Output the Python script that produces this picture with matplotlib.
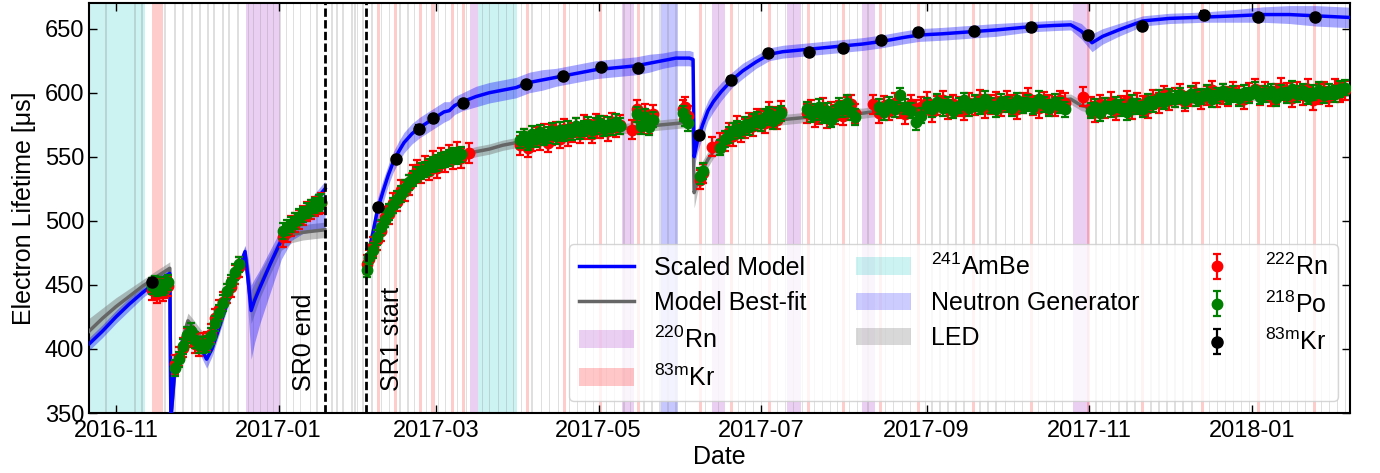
import numpy as np
import matplotlib
matplotlib.use("Agg")
import matplotlib.pyplot as plt
import matplotlib.dates as mdates
from matplotlib.patches import Patch
from matplotlib.lines import Line2D

plt.rcParams['font.family'] = ['Liberation Sans', 'DejaVu Sans']
plt.rcParams['mathtext.fontset'] = 'custom'
plt.rcParams['mathtext.rm'] = 'Liberation Sans'
plt.rcParams['mathtext.it'] = 'Liberation Sans:italic'
plt.rcParams['mathtext.bf'] = 'Liberation Sans:bold'

# all times are days since 2016-11-01
# ---- scaled model (blue) and best-fit model (gray), SR0
model_days_sr0 = [-15, -10, -5, 0, 5, 10, 15, 20.2, 20.6, 22,
                  25, 27, 29, 31.5, 34, 36, 38, 42, 46, 48.4,
                  49.5, 50.7, 52, 54, 58, 62, 66, 70, 74, 78.4]
blue_sr0 = [397, 404, 414, 425, 435, 444, 452, 459, 345, 383,
            405, 416, 412, 402, 392, 400, 412, 438, 462, 476,
            455, 430, 438, 448, 467, 485, 496, 505, 514, 525]
blue_lo_sr0 = [391, 399, 409, 420, 430, 440, 448, 455, 340, 377,
               400, 411, 407, 396, 385, 394, 407, 433, 457, 470,
               430, 392, 405, 420, 445, 470, 485, 490, 492, 493]
blue_hi_sr0 = [402, 409, 419, 430, 440, 448, 456, 463, 350, 389,
               410, 421, 417, 407, 398, 406, 417, 443, 467, 481,
               470, 450, 455, 462, 478, 494, 503, 512, 520, 531]
gray_sr0 = [403, 414, 424, 433, 441, 449, 456, 463, 345, 380,
            408, 422, 417, 410, 405, 410, 418, 440, 462, 474,
            455, 433, 440, 450, 467, 483, 489, 491, 492, 493]
gray_lo_sr0 = [393, 404, 416, 426, 435, 444, 451, 458, 340, 374,
               402, 416, 411, 404, 399, 404, 412, 434, 456, 468,
               445, 420, 428, 440, 459, 477, 483, 485, 486, 487]
gray_hi_sr0 = [413, 424, 432, 440, 447, 454, 461, 468, 350, 386,
               414, 428, 423, 416, 411, 416, 424, 446, 468, 480,
               465, 446, 452, 460, 475, 489, 495, 497, 498, 499]

# ---- SR1
model_days_sr1 = [93.8, 95, 96.5, 98, 100, 102, 104, 106,
                  108, 111, 114, 117, 120, 123, 125, 127, 130,
                  135, 140, 145, 150, 155, 160, 165, 170, 175, 180, 185, 190, 195, 200, 205, 210, 215,
                  216.4, 216.8, 218, 220, 222, 224, 227, 231, 235, 240, 245, 250, 255, 260, 265, 270, 275, 280,
                  287, 295, 301, 310, 320, 330, 343, 352, 358, 362, 366, 370, 376, 385, 395, 408, 420, 430, 440, 450, 460, 470]
blue_sr1 = [462, 478, 492, 508, 522, 535, 546, 554,
            561, 568, 573, 577, 581, 585, 586, 590, 593,
            597, 600, 602, 604, 608, 610, 612, 614, 616, 618, 619, 620, 621, 623, 625, 627, 627,
            626, 550, 562, 575, 586, 593, 601, 610, 617, 624, 630, 632, 633, 634, 635, 636, 637, 638,
            640, 643, 645, 646, 647.5, 649, 651.5, 652.5, 653, 648, 639, 644, 649, 656, 658, 659, 660, 661, 661, 660, 659, 658]
blue_hw_sr1 = [9, 9, 9, 9, 9, 8, 8, 8,
               8, 8, 8, 8, 8, 8, 7, 7, 7,
               8, 8, 8, 8, 8, 8, 7, 7, 7, 7, 7, 7, 7, 7, 6, 6, 6,
               6, 8, 9, 9, 8, 8, 7, 6, 6, 5, 5, 5, 5, 5, 5, 5, 5, 5,
               5, 5, 5, 5, 5, 5, 4, 4, 4, 6, 7, 6, 5, 4, 4, 4, 5, 6, 7, 8, 8, 8]
gray_sr1 = [462, 472, 481, 490, 500, 509, 516, 522,
            527, 532, 537, 541, 544, 547, 548, 550, 551,
            554, 556, 559, 561, 563, 565, 566, 568, 569, 570, 571, 572, 573, 574, 575, 576, 577,
            577, 522, 530, 540, 548, 554, 560, 566, 570, 574, 577, 579, 580, 581, 582, 583, 584, 584,
            586, 587, 588, 589, 590, 591, 593, 594, 595, 590, 588, 589, 590, 592, 594, 596, 597, 598, 599, 600, 601, 601]
gray_hw_sr1 = [6, 6, 6, 6, 5, 5, 5, 5,
               5, 5, 4, 4, 4, 4, 4, 4, 4,
               4, 4, 4, 4, 4, 4, 4, 4, 4, 4, 4, 4, 4, 4, 4, 4, 4,
               4, 12, 8, 7, 6, 5, 5, 4, 4, 4, 4, 4, 4, 4, 4, 4, 4, 4,
               4, 4, 4, 4, 4, 4, 4, 4, 4, 4, 4, 4, 4, 4, 4, 4, 4, 4, 4, 4, 4, 4]

# ---- 222Rn / 218Po alpha lifetimes (nan = no point)
nan = np.nan
alpha_days = [13.5, 14.5, 15.5, 16.5, 17.5, 18.5, 19.5,
              22.0, 23.5, 25.0, 26.5, 28.0, 29.5, 31.0, 32.5, 34.0, 35.5, 37.0, 38.5, 40.0, 41.5, 43.0, 44.5, 46.0,
              62.5, 64.0, 65.5, 67.0, 68.5, 70.0, 71.5, 73.0, 74.5, 76.0, 77.0,
              94.0, 95.0, 96.5, 98.0, 99.5, 101.0, 102.5, 104.0, 105.5, 107.0, 108.5, 110.0, 111.5,
              113.0, 114.5, 116.0, 117.5, 119.0, 120.5, 122.0, 123.5, 125.0, 126.5, 128.0, 129.5, 132.5,
              151.5, 153.0, 154.5, 156.0, 157.5, 159.0, 160.5, 162.0, 163.5, 165.0, 166.5, 168.0, 169.5,
              171.0, 172.5, 174.0, 175.5, 177.0, 178.5, 180.0, 181.5, 183.0, 184.5, 186.0, 187.5, 189.0,
              193.6, 195.5, 197.0, 198.5, 200.0, 201.5, 212.5, 213.5, 214.5,
              219.0, 220.0, 223.5, 226.5, 228.5, 230.0, 231.5, 233.0, 234.5, 236.0, 237.5, 239.0, 240.5,
              242.0, 243.5, 245.0, 246.5, 248.0, 249.5,
              259.0, 260.5, 262.0, 263.5, 265.0, 266.5, 268.0, 269.5, 271.0, 272.5, 274.0, 275.5, 277.0,
              283.7, 286, 288, 290, 292, 294, 296, 298, 300, 302, 304, 306, 308, 310, 312, 314, 316, 318,
              320, 322, 324, 326, 328, 330, 332, 334, 336, 338, 340, 342, 344, 346, 348, 350, 352, 354, 356,
              362.5, 365.5, 367, 369, 371, 373, 375, 377, 379, 381, 383, 385, 387, 389, 391, 393, 395, 397,
              399, 401, 403, 405, 407, 409, 411, 413, 415, 417, 419, 421, 423, 425, 427, 429, 431, 433,
              435, 437, 439, 441, 443, 445, 447, 449, 451, 453, 455, 457, 459, 461]
rn222_tau = [446, 447, 443, 448, 445, 447, 449,
             388, 394, 401, 409, 410, 404, 402, 405, 406, 412, 424, 431, 437, 443, 448, 458, 464,
             487, 491, 496, 499, 501, 504, 507, 509, 511, 513, 514,
             466, 470, 480, 485, 492, 503, 505, 514, 515, 524, 523, 528, 536,
             540, 537, 543, 539, 547, 541, 549, 546, 552, 548, 554, 549, 553,
             559, 564, 557, 562, 566, 563, 568, 561, 567, 570, 564, 572, 566,
             569, 573, 568, 575, 571, 568, 576, 572, 574, 570, 577, 573, 575,
             571, 587, 577, 584, 575, 583, 587, 589, 582,
             532, 537, 558, 561, 562, 569, 566, 574, 569, 572, 577, 574, 580,
             578, 576, 585, 581, 579, 586,
             584, 587, 581, 583, 588, 580, 585, 583, 586, 582, 589, 591, 584,
             591, 584, 590, 586, 592, 588, 583, 591, 587, 589, 593, 585, 590, 594, 587, 591, 589, 586,
             592, 590, 595, 588, 591, 593, 589, 594, 591, 587, 592, 596, 590, 588, 593, 591, 589, 594, 592,
             597, 589, 585, 591, 588, 593, 586, 590, 594, 587, 592, 590, 588, 595, 592, 598, 594, 596,
             599, 593, 597, 600, 595, 598, 602, 596, 599, 597, 601, 598, 595, 600, 603, 598, 601, 597,
             599, 604, 600, 596, 601, 598, 603, 594, 599, 601, 597, 603, 600, 602]
po218_tau = [449, 451, 447, 450, 448, 450, 452,
             385, 392, 402, 411, 414, 407, 403, 403, 404, 410, 420, 428, 436, 445, 452, 460, 466,
             492, 495, 497, 500, 503, 505, 508, 510, 512, 514, 515,
             462, 472, 477, 487, 495, 501, 507, 512, 517, 521, 526, 530, 533,
             536, 539, 540, 542, 544, 545, 547, 548, 549, 551, 550, 552, nan,
             563, 566, 561, 568, 564, 569, 565, 567, 570, 566, 571, 568, 572,
             569, 574, 570, 572, 575, 571, 574, 576, 572, 575, 573, 577, 574,
             nan, 583, 574, 581, 573, 579, 584, 580, 576,
             535, 539, nan, 557, 564, 567, 570, 572, 571, 575, 573, 577, 579,
             576, 581, 583, 578, 582, 584,
             587, 583, 585, 589, 582, 586, 579, 584, 590, 587, 592, 585, 581,
             nan, 589, 585, 591, 587, 598, 589, 586, 577, 582, 590, 587, 593, 588, 591, 586, 590, 594,
             588, 592, 589, 595, 590, 587, 593, 591, 588, 594, 590, 592, 589, 595, 591, 588, 593, 590, 587,
             nan, 586, 589, 584, 590, 587, 591, 588, 585, 592, 589, 587, 593, 591, 596, 593, 597, 595,
             598, 594, 599, 596, 597, 600, 595, 598, 601, 597, 599, 596, 600, 598, 602, 597, 599, 601,
             596, 600, 598, 603, 599, 601, 597, 600, 602, 598, 601, 599, 603, 604]
rn222_err = 7.5
po218_err = 6.0

# ---- 83mKr lifetimes
kr_days = [13.5, 98.4, 105.0, 113.7, 118.9, 130.2, 153.8, 167.7, 182.0, 195.9, 218.7, 230.7,
           244.6, 260.0, 272.8, 287.0, 300.9, 321.6, 343.0, 364.4, 384.9, 407.9, 428.1, 449.5]
kr_tau = [452, 511, 548, 572, 580, 592, 607, 613, 620, 619, 567, 610,
          631, 632, 635, 641, 647, 648, 651, 645, 652, 661, 659, 659]
kr_err = 2.5

# ---- calibration periods
ambe_start = [-20.0, 135.8]
ambe_end = [11.0, 150.5]
ng_start = [204.5]
ng_end = [210.9]
rn220_start = [48.8, 132.8, 189.9, 223.6, 251.8, 279.9, 358.7]
rn220_end = [61.5, 135.8, 194.4, 228.5, 257.0, 284.8, 364.7]
kr_cal_start = [13.5, 97.7, 104.1, 113.5, 118.3, 125.5, 129.6, 153.6, 167.5, 181.0, 195.3, 218.5, 230.2,
                244.4, 259.1, 272.2, 286.1, 300.3, 321.0, 342.7, 364.0, 384.4, 406.9, 427.9, 448.9]
kr_cal_end = [17.6, 98.9, 105.3, 114.7, 119.5, 126.7, 130.8, 154.8, 168.7, 182.2, 196.5, 219.7, 231.4,
              245.6, 260.3, 273.4, 287.3, 301.5, 322.2, 343.9, 365.2, 385.6, 408.1, 429.1, 450.1]
led_days = [-3.8, 7.1, 9.8, 18.4, 22.1, 25.1, 28.5, 31.5, 34.5, 36.8, 40.2, 42.4, 45.8, 49.7, 51.6,
            54.2, 56.8, 59.1, 61.5, 64.0, 66.6, 69.2, 72.9, 75.5, 81.1, 82.9, 85.1, 88.6, 89.6, 90.6,
            92.7, 96.0, 99.5, 102.5, 106.5, 109.5, 112.0, 116.5, 121.0, 123.5, 128.0, 131.5, 137.5,
            140.0, 143.5, 146.5, 149.0, 152.0, 156.0, 159.5, 162.5, 166.0, 170.0, 173.0, 176.0, 179.0,
            184.0, 187.0, 190.5, 193.0, 198.0, 201.0, 204.0, 207.0, 210.0, 213.5, 221.0, 226.0, 233.5,
            236.0, 239.0, 242.0, 248.0, 251.0, 254.0, 257.5, 262.0, 265.0, 268.0, 270.5, 275.0, 278.0,
            282.0, 288.5, 291.5, 295.0, 298.0, 303.5, 306.0, 309.0, 312.0, 315.0, 318.0, 324.0, 327.0,
            330.0, 333.5, 337.0, 340.0, 346.0, 349.0, 352.0, 355.0, 367.5, 370.0, 373.0, 376.0, 379.0,
            382.0, 388.0, 391.0, 394.0, 397.0, 400.0, 403.5, 410.0, 413.0, 416.0, 419.0, 422.0, 425.0,
            431.0, 434.0, 437.0, 440.0, 443.0, 446.0, 452.0, 455.0, 458.0, 461.0]
sr0_end = 78.4
sr1_start = 93.8

t0 = mdates.date2num(np.datetime64('2016-11-01'))


def to_num(days):
    return t0 + np.asarray(days, dtype=float)


fig = plt.figure(figsize=(13.8, 4.73), dpi=100)
ax = fig.add_axes([0.0645, 0.1268, 0.9138, 0.8668])

# calibration bands
for s, e in zip(ambe_start, ambe_end):
    ax.axvspan(to_num(s), to_num(e), color='c', alpha=0.2, lw=0, zorder=0)
for s, e in zip(ng_start, ng_end):
    ax.axvspan(to_num(s), to_num(e), color='blue', alpha=0.22, lw=0, zorder=0)
for s, e in zip(rn220_start, rn220_end):
    ax.axvspan(to_num(s), to_num(e), color='#b040d0', alpha=0.25, lw=0, zorder=0)
for s, e in zip(kr_cal_start, kr_cal_end):
    ax.axvspan(to_num(s), to_num(e), color='red', alpha=0.2, lw=0, zorder=0)
for d in led_days:
    ax.axvspan(to_num(d) - 0.3, to_num(d) + 0.3, color='gray', alpha=0.25, lw=0, zorder=0)

# models
x0 = to_num(model_days_sr0)
x1 = to_num(model_days_sr1)
b1 = np.array(blue_sr1)
g1 = np.array(gray_sr1)
ax.fill_between(x0, gray_lo_sr0, gray_hi_sr0, color='gray', alpha=0.5, lw=0, zorder=2)
ax.fill_between(x1, g1 - gray_hw_sr1, g1 + gray_hw_sr1, color='gray', alpha=0.5, lw=0, zorder=2)
ax.fill_between(x0, blue_lo_sr0, blue_hi_sr0, color='blue', alpha=0.35, lw=0, zorder=2)
ax.fill_between(x1, b1 - blue_hw_sr1, b1 + blue_hw_sr1, color='blue', alpha=0.35, lw=0, zorder=2)
ax.plot(x0, gray_sr0, color='#666666', lw=2.5, zorder=3)
ax.plot(x1, gray_sr1, color='#666666', lw=2.5, zorder=3)
ax.plot(x0, blue_sr0, color='blue', lw=2.5, zorder=3)
ax.plot(x1, blue_sr1, color='blue', lw=2.5, zorder=3)

# measurements
xa = to_num(alpha_days)
h_rn = ax.errorbar(xa, rn222_tau, yerr=rn222_err, fmt='o', color='red', ms=7.5,
                   elinewidth=1.6, capsize=3, capthick=1.6, zorder=4)
h_po = ax.errorbar(xa, po218_tau, yerr=po218_err, fmt='o', color='green', ms=7.5,
                   elinewidth=1.6, capsize=3, capthick=1.6, zorder=5)
h_kr = ax.errorbar(to_num(kr_days), kr_tau, yerr=kr_err, fmt='o', color='black', ms=8,
                   elinewidth=1.6, capsize=3, capthick=1.6, zorder=6)

# science run boundaries
for d in (sr0_end, sr1_start):
    ax.axvline(to_num(d), color='black', ls=(0, (3, 1.2)), lw=2, zorder=7)
ax.text(to_num(70.5), 367, 'SR0 end', rotation=90, fontsize=18, ha='center', va='bottom')
ax.text(to_num(103.6), 367, 'SR1 start', rotation=90, fontsize=18, ha='center', va='bottom')

ax.set_xlim(to_num(-10.1), to_num(462.75))
ax.set_ylim(350, 670)
ax.xaxis.set_major_locator(mdates.MonthLocator(bymonth=[1, 3, 5, 7, 9, 11]))
ax.xaxis.set_major_formatter(mdates.DateFormatter('%Y-%m'))
ax.set_yticks([350, 400, 450, 500, 550, 600, 650])
ax.tick_params(direction='in', top=True, right=True, length=6, width=1, labelsize=17)
ax.tick_params(axis='x', pad=5)
for sp in ax.spines.values():
    sp.set_linewidth(1.5)
ax.set_xlabel('Date', fontsize=18, labelpad=2)
ax.set_ylabel('Electron Lifetime [μs]', fontsize=18, labelpad=6)

handles = [
    Line2D([], [], color='blue', lw=2.5),
    Line2D([], [], color='#666666', lw=2.5),
    Patch(facecolor='#b040d0', alpha=0.25),
    Patch(facecolor='red', alpha=0.22),
    Patch(facecolor='c', alpha=0.2),
    Patch(facecolor='blue', alpha=0.2),
    Patch(facecolor='gray', alpha=0.3),
    h_rn, h_po, h_kr,
]
labels = ['Scaled Model', 'Model Best-fit', r'$^{220}$Rn', r'$^{83\mathrm{m}}$Kr',
          r'$^{241}$AmBe', 'Neutron Generator', 'LED',
          r'$^{222}$Rn', r'$^{218}$Po', r'$^{83\mathrm{m}}$Kr']
ax.legend(handles, labels, ncol=3, loc='lower right', fontsize=18, handlelength=2.2,
          labelspacing=0.45)

fig.savefig('out.png', dpi=100)
